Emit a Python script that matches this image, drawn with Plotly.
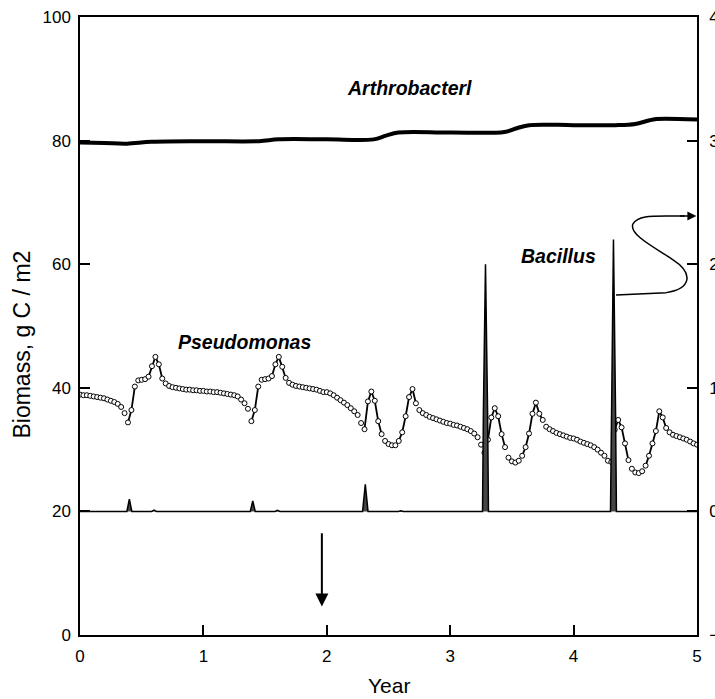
import plotly.graph_objects as go

# ---------------- data ----------------
steps_per_year = 36
pseudomonas = [
    38.9, 38.8, 38.8, 38.7, 38.6, 38.5, 38.4, 38.3, 38.1, 37.9,
    37.7, 37.4, 36.9, 35.9, 34.4, 36.4, 40.2, 41.2, 41.3, 41.4,
    41.8, 43.5, 45.0, 43.8, 41.5, 40.7, 40.3, 40.1, 40.0, 39.9,
    39.8, 39.7, 39.7, 39.6, 39.6, 39.5,
    39.5, 39.4, 39.4, 39.3, 39.3, 39.2, 39.1, 39.0, 38.9, 38.8,
    38.6, 38.1, 37.5, 36.6, 34.6, 36.4, 40.2, 41.3, 41.4, 41.5,
    41.9, 43.8, 45.0, 43.4, 41.6, 40.8, 40.5, 40.3, 40.2, 40.1,
    40.0, 39.9, 39.8, 39.7, 39.5, 39.3,
    39.3, 39.1, 38.8, 38.4, 38.0, 37.6, 37.2, 36.7, 36.2, 35.6,
    34.3, 33.3, 37.8, 39.4, 37.9, 34.6, 32.5, 31.4, 30.9, 30.7,
    30.7, 31.4, 32.8, 35.4, 38.5, 39.8, 37.5, 36.4, 35.9, 35.6,
    35.3, 35.1, 34.9, 34.7, 34.5, 34.3,
    34.2, 34.0, 33.9, 33.7, 33.5, 33.3, 33.0, 32.6, 32.0, 30.8,
    29.5, 31.6, 35.2, 36.7, 35.4, 32.5, 30.4, 28.7, 28.1, 27.9,
    28.2, 29.0, 30.4, 32.6, 35.8, 37.6, 35.8, 34.8, 33.7, 33.3,
    33.0, 32.7, 32.5, 32.3, 32.1, 31.9,
    31.8, 31.6, 31.3, 31.1, 30.9, 30.7, 30.4, 30.0, 29.5, 29.0,
    28.2, 28.0, 33.2, 34.8, 33.6, 31.0, 28.3, 26.9, 26.3, 26.2,
    26.5, 27.4, 29.0, 31.0, 33.0, 36.2, 35.2, 33.5, 32.8, 32.4,
    32.2, 32.0, 31.8, 31.6, 31.3, 31.0, 30.8,
]
pseudo_years = [i / steps_per_year for i in range(len(pseudomonas))]
# index ranges where the Pseudomonas points are joined by a line
pseudo_linked = [(14, 16), (20, 24), (50, 52), (56, 60), (83, 88), (93, 98),
                 (118, 124), (129, 135), (156, 160), (165, 171)]

arthro_years = [0.0, 0.2, 0.38, 0.58, 1.0, 1.45, 1.61, 2.0, 2.38, 2.48, 2.58,
                3.0, 3.44, 3.54, 3.64, 4.0, 4.34, 4.5, 4.6, 4.67, 5.0]
arthrobacter = [79.7, 79.6, 79.5, 79.8, 79.9, 79.9, 80.2, 80.2, 80.2, 80.8, 81.3,
                81.3, 81.4, 82.0, 82.5, 82.5, 82.5, 82.7, 83.2, 83.5, 83.4]

bac_years = [0.0, 0.38, 0.40, 0.42, 0.58, 0.60, 0.62, 1.38, 1.40, 1.42,
             1.58, 1.60, 1.62, 2.29, 2.312, 2.334, 2.58, 2.60, 2.62,
             3.262, 3.269, 3.286, 3.303, 3.31, 4.299, 4.306, 4.323, 4.34, 4.347, 5.0]
bacillus = [0, 0, 0.1, 0, 0, 0.01, 0, 0, 0.085, 0,
            0, 0.008, 0, 0, 0.22, 0, 0, 0.006, 0,
            0, 0.8, 2.0, 0.8, 0, 0, 0.8, 2.2, 0.8, 0, 0]

x_ticks = [0, 1, 2, 3, 4, 5]
y_ticks = [0, 20, 40, 60, 80, 100]
y2_ticks = [-1, 0, 1, 2, 3, 4]

# ---------------- figure ----------------
fig = go.Figure()

# Bacillus (right axis), filled spikes
fig.add_trace(go.Scatter(
    x=bac_years, y=bacillus, yaxis='y2', mode='lines',
    line=dict(color='black', width=1.5), fill='tozeroy',
    fillcolor='rgb(70,70,70)', hoverinfo='skip'))

# Arthrobacter thick line
fig.add_trace(go.Scatter(
    x=arthro_years, y=arthrobacter, mode='lines', line_shape='spline',
    line=dict(color='black', width=4)))

# Pseudomonas linked segments
linked = [None] * len(pseudomonas)
for a, b in pseudo_linked:
    for i in range(a, b + 1):
        linked[i] = pseudomonas[i]
fig.add_trace(go.Scatter(
    x=pseudo_years, y=linked, mode='lines', connectgaps=False,
    line=dict(color='black', width=1.8)))

# Pseudomonas points
fig.add_trace(go.Scatter(
    x=pseudo_years, y=pseudomonas, mode='markers',
    marker=dict(symbol='circle', size=5, color='white',
                line=dict(color='black', width=1))))

axis_font = dict(family='Liberation Sans, Arial, sans-serif', size=17, color='black')

fig.update_layout(
    width=715, height=699,
    margin=dict(l=80, r=18, t=17, b=64, autoexpand=False),
    plot_bgcolor='white', paper_bgcolor='white',
    showlegend=False,
    font=dict(family='Liberation Sans, Arial, sans-serif', color='black'),
    xaxis=dict(range=[0, 5], tickvals=x_ticks, ticks='inside', ticklen=10,
               tickwidth=1.5, tickcolor='black', showline=True, linewidth=1.5,
               linecolor='black', mirror=True, showgrid=False, zeroline=False,
               tickfont=axis_font, ticklabelstandoff=5, automargin=False),
    yaxis=dict(range=[0, 100], tickvals=y_ticks, ticks='inside', ticklen=10,
               tickwidth=1.5, tickcolor='black', showline=True, linewidth=1.5,
               linecolor='black', showgrid=False, zeroline=False,
               tickfont=axis_font, ticklabelstandoff=4, automargin=False),
    yaxis2=dict(range=[-1, 4], tickvals=y2_ticks, overlaying='y', side='right',
                ticks='inside', ticklen=10, tickwidth=1.5, tickcolor='black',
                showline=True, linewidth=1.5, linecolor='black',
                showgrid=False, zeroline=False, tickfont=axis_font,
                ticklabelstandoff=7, automargin=False),
)

label_font = dict(family='Liberation Sans, Arial, sans-serif', size=19.5,
                  color='black', weight='bold', style='italic')
fig.add_annotation(x=2.67, y=88.5, text='Arthrobacterl', showarrow=False, font=label_font)
fig.add_annotation(x=1.337, y=47.4, text='Pseudomonas', showarrow=False, font=label_font)
fig.add_annotation(x=3.88, y=61.3, text='Bacillus', showarrow=False, font=label_font)

# axis titles
fig.add_annotation(xref='paper', yref='paper', x=-0.094, y=0.47, text='Biomass, g C / m2',
                   textangle=-90, showarrow=False, xanchor='center', yanchor='middle',
                   font=dict(family='Liberation Sans, Arial, sans-serif', size=23, color='black'))
fig.add_annotation(xref='paper', yref='paper', x=0.5, y=-0.082, text='Year',
                   showarrow=False, xanchor='center', yanchor='middle',
                   font=dict(family='Liberation Sans, Arial, sans-serif', size=21, color='black'))

# down arrow
fig.add_annotation(x=1.96, y=4.6, ax=1.96, ay=16.7, axref='x', ayref='y',
                   text='', showarrow=True, arrowhead=2, arrowsize=1.3,
                   arrowwidth=2, arrowcolor='black')

# curvy arrow from Bacillus peak to the right axis
fig.add_shape(type='path', xref='x', yref='y',
              path='M 4.344,55.0 L 4.75,55.4 C 4.95,56.0 4.98,58.5 4.8,60.8 '
                   'C 4.65,62.8 4.45,64.8 4.48,66.5 C 4.52,67.8 4.62,67.8 4.75,67.8 L 4.9,67.8',
              line=dict(color='black', width=1.5))
fig.add_annotation(x=4.995, y=67.8, ax=4.85, ay=67.8, axref='x', ayref='y',
                   text='', showarrow=True, arrowhead=2, arrowsize=1.2,
                   arrowwidth=1.5, arrowcolor='black')

fig.write_html('out.html')
